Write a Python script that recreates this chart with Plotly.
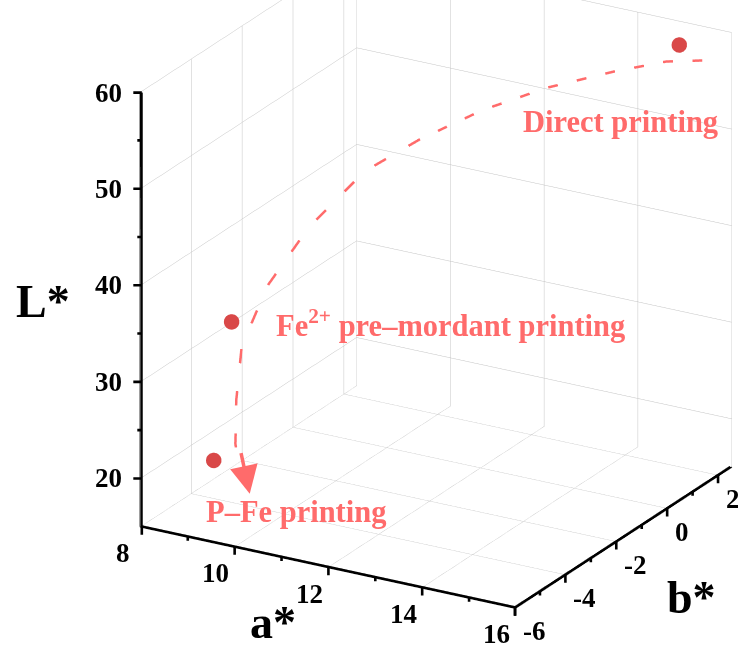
import plotly.graph_objects as go

# ---- data ----
labels = ["Direct printing", "Fe<sup>2+</sup> pre\u2013mordant printing", "P\u2013Fe printing"]
a_vals = [15.15, 9.40, 9.29]
b_vals = [2.0, -5.0, -5.5]
L_vals = [58.7, 36.0, 22.4]

# dashed trend curve (estimated points along the drawn path)
curve_a = [15.48, 14.93, 14.07, 12.97, 12.00, 11.14, 10.45, 9.86, 9.47, 9.24, 9.34, 9.43, 9.59]
curve_b = [2.3, 1.9, 1.4, 0.8, 0.1, -0.8, -1.7, -2.8, -3.7, -4.3, -4.7, -4.9, -5.0]
curve_L = [56.9, 56.9, 55.8, 54.0, 51.9, 49.5, 47.0, 42.5, 37.6, 32.1, 27.3, 23.2, 20.3]
arrow_tip = (9.79, -5.0, 18.6)

a_ticks = [8, 10, 12, 14, 16]
b_ticks = [-6, -4, -2, 0, 2]
L_ticks = [20, 30, 40, 50, 60]
a_minor = [9, 11, 13, 15]
b_minor = [-5, -3, -1, 1]
L_minor = [25, 35, 45, 55]
a_range = [8, 16]
b_range = [-6, 2.5]
L_range = [15, 60]

SALMON = "#ff6b6b"
FONT = "Liberation Serif"
# anchors sit a hair inside the box so they are never culled or clipped
xa0, xa1 = a_range[0] + 0.02, a_range[1] - 0.02
yb0, yb1 = b_range[0] + 0.02, b_range[1] - 0.02
zl0, zl1 = L_range[0] + 0.05, L_range[1] - 0.05


def clamp(v, lo, hi):
    return min(max(v, lo), hi)


fig = go.Figure()
# thick axis lines along the labelled edges
fig.add_trace(go.Scatter3d(
    x=[xa0, xa0, None, xa0, xa1, xa1],
    y=[yb0, yb0, None, yb0, yb0, yb1],
    z=[zl0, zl1, None, zl0, zl0, zl0],
    mode="lines", line=dict(color="black", width=4), hoverinfo="skip", showlegend=False))
# dashed curve, drawn in two consecutive pieces
for s, e in [(0, 6), (5, 13)]:
    fig.add_trace(go.Scatter3d(
        x=curve_a[s:e], y=curve_b[s:e], z=curve_L[s:e], mode="lines",
        line=dict(color=SALMON, width=5, dash="longdash"),
        hoverinfo="skip", showlegend=False))
fig.add_trace(go.Scatter3d(
    x=a_vals, y=b_vals, z=L_vals, mode="markers",
    marker=dict(size=9, color="#d94848", line=dict(width=0)),
    hoverinfo="skip", showlegend=False))

anns = []


def tick(x, y, z, ax, ay):
    return dict(x=x, y=y, z=z, text="", showarrow=True, arrowhead=0, arrowwidth=2.6,
                arrowcolor="black", ax=ax, ay=ay, standoff=0, startstandoff=0)


# tick marks (major and minor) drawn as short pixel strokes anchored on the axes
for v in L_ticks:
    anns.append(tick(xa0, yb0, clamp(v, zl0, zl1), -10, 0))
for v in L_minor:
    anns.append(tick(xa0, yb0, v, -6, 0))
for v in a_ticks:
    anns.append(tick(clamp(v, xa0, xa1), yb0, zl0, 0, 10))
for v in a_minor:
    anns.append(tick(v, yb0, zl0, 0, 6))
for v in b_ticks:
    anns.append(tick(xa1, clamp(v, yb0, yb1), zl0, 0, 10))
for v in b_minor:
    anns.append(tick(xa1, v, zl0, 0, 6))

tickfont = dict(family=FONT, size=27, color="black", weight="bold")
for v in L_ticks:
    anns.append(dict(x=xa0, y=yb0, z=clamp(v, zl0, zl1), text=str(v), showarrow=False,
                     xanchor="right", yanchor="middle", xshift=-18, font=tickfont))
for v in a_ticks:
    anns.append(dict(x=clamp(v, xa0, xa1), y=yb0, z=zl0, text=str(v), showarrow=False,
                     xanchor="center", yanchor="middle", xshift=-19, yshift=-27, font=tickfont))
for v in b_ticks:
    anns.append(dict(x=xa1, y=clamp(v, yb0, yb1), z=zl0, text=str(v), showarrow=False,
                     xanchor="left", yanchor="middle", xshift=6, yshift=-24, font=tickfont))
titlefont = dict(family=FONT, size=46, color="black", weight="bold")
anns.append(dict(x=xa0, y=yb0, z=37.5, text="L*", showarrow=False,
                 xanchor="right", yanchor="middle", xshift=-70, yshift=8, font=titlefont))
anns.append(dict(x=11.0, y=yb0, z=zl0, text="a*", showarrow=False,
                 xanchor="center", yanchor="middle", xshift=-9, yshift=-66, font=titlefont))
anns.append(dict(x=xa1, y=-2, z=zl0, text="b*", showarrow=False,
                 xanchor="center", yanchor="middle", xshift=75, yshift=-56, font=titlefont))

labfont = dict(family=FONT, size=30.5, color=SALMON, weight="bold")
anns.append(dict(x=a_vals[0], y=b_vals[0], z=L_vals[0], text=labels[0], showarrow=False,
                 xanchor="center", yanchor="middle", xshift=-59, yshift=-77, font=labfont))
anns.append(dict(x=a_vals[1], y=b_vals[1], z=L_vals[1], text=labels[1], showarrow=False,
                 xanchor="left", yanchor="middle", xshift=43, yshift=-2, font=labfont))
anns.append(dict(x=a_vals[2], y=b_vals[2], z=L_vals[2], text=labels[2], showarrow=False,
                 xanchor="left", yanchor="middle", xshift=-10, yshift=-52, font=labfont))
# arrow head at the end of the curve
anns.append(dict(x=arrow_tip[0], y=arrow_tip[1], z=arrow_tip[2], text="", showarrow=True,
                 ax=-9, ay=-42, arrowhead=2, arrowsize=1.6, arrowwidth=3.5, arrowcolor=SALMON))


def axis(rng, ticks):
    return dict(range=rng, tickvals=ticks, showticklabels=False, title=dict(text=""),
                ticks="", showline=True, linewidth=3, linecolor="black",
                showgrid=True, gridcolor="#c4c4c4", gridwidth=1,
                showbackground=True, backgroundcolor="white",
                zeroline=False, showspikes=False, autorange=False)


fig.update_layout(
    width=738, height=656, margin=dict(l=0, r=0, t=0, b=0),
    paper_bgcolor="white", showlegend=False,
    scene=dict(
        domain=dict(x=[0, 1], y=[0, 1]),
        xaxis=axis(a_range, a_ticks),
        yaxis=axis(b_range, b_ticks),
        zaxis=axis(L_range, L_ticks),
        aspectmode="manual", aspectratio=dict(x=1.32, y=1.32, z=1.43),
        camera=dict(eye=dict(x=0.479, y=-1.240, z=0.374), up=dict(x=0, y=0, z=1),
                    center=dict(x=-0.150, y=-0.149, z=-0.137),
                    projection=dict(type="orthographic")),
        annotations=anns,
    ),
)
fig.write_html("out.html")
